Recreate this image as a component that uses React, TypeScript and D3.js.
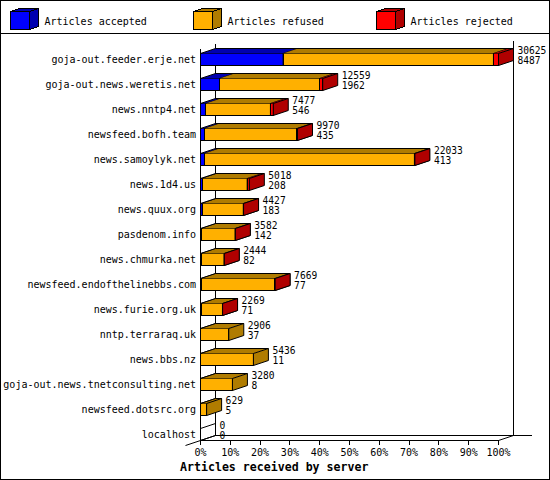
import React from 'react';
import * as d3 from 'd3';

const hosts = [
  'goja-out.feeder.erje.net',
  'goja-out.news.weretis.net',
  'news.nntp4.net',
  'newsfeed.bofh.team',
  'news.samoylyk.net',
  'news.1d4.us',
  'news.quux.org',
  'pasdenom.info',
  'news.chmurka.net',
  'newsfeed.endofthelinebbs.com',
  'news.furie.org.uk',
  'nntp.terraraq.uk',
  'news.bbs.nz',
  'goja-out.news.tnetconsulting.net',
  'newsfeed.dotsrc.org',
  'localhost',
];
const accepted = [8487, 1962, 546, 435, 413, 208, 183, 142, 82, 77, 71, 37, 11, 8, 5, 0];
const refused = [21618, 10277, 6641, 9475, 21570, 4590, 4214, 3415, 2342, 7577, 2188, 2869, 5425, 3272, 624, 0];
const rejected = [520, 320, 290, 60, 50, 220, 30, 25, 20, 15, 10, 0, 0, 0, 0, 0];
const seriesNames = ['Articles accepted', 'Articles refused', 'Articles rejected'];
const percentTicks = [0, 10, 20, 30, 40, 50, 60, 70, 80, 90, 100];
const axisTitle = 'Articles received by server';

const frontColors = ['#0000ff', '#ffb000', '#ff0000'];
const darkColors = ['#0000b0', '#b07c00', '#b00000'];

const W = 550;
const H = 480;
const DX = 15;
const DY = 5;
const BAR_H = 12;
const FONT = '"DejaVu Sans Mono", "Liberation Mono", monospace';

export default function App() {
  const series = [accepted, refused, rejected];
  const totals = hosts.map((_, i) => accepted[i] + refused[i] + rejected[i]);
  const maxTotal = d3.max(totals) as number;
  const pct = (v: number) => (v / maxTotal) * 100;
  const x = d3.scaleLinear().domain([0, 100]).range([200.5, 498.5]);
  const y = d3.scaleBand<string>().domain(hosts).range([53.5, 453.5]).padding(0);

  const x0 = x(0);
  const x100 = x(100);
  const firstTop = y(hosts[0]) as number;
  const axisY = (y(hosts[hosts.length - 1]) as number) + BAR_H;
  const frontTop = firstTop - DY;
  const backTop = frontTop - DY;
  const backBottom = axisY - DY;

  const bars = hosts.map((h, i) => {
    const t = y(h) as number;
    const b = t + BAR_H;
    let cum = 0;
    const segs: { a: number; z: number; k: number }[] = [];
    series.forEach((vals, k) => {
      const v = vals[i];
      const a = x(pct(cum));
      cum += v;
      const z = x(pct(cum));
      if (v > 0) segs.push({ a, z, k });
    });
    const end = x(pct(totals[i]));
    return { h, i, t, b, segs, end };
  });

  return (
    <svg
      width={W}
      height={H}
      viewBox={`0 0 ${W} ${H}`}
      style={{ position: 'fixed', left: 0, top: 0, background: '#fff' }}
      fontFamily={FONT}
    >
      <rect x={0} y={0} width={W} height={H} fill="#fff" />
      {/* legend */}
      {seriesNames.map((name, k) => {
        const lx = 10.5 + 183 * k;
        const lt = 11.5;
        const lb = 29.5;
        const lw = 19;
        const ldx = 9;
        const ldy = 3;
        return (
          <g key={name} shapeRendering="crispEdges">
            <path
              d={`M${lx},${lt}L${lx + ldx},${lt - ldy}H${lx + lw + ldx}L${lx + lw},${lt}Z`}
              fill={darkColors[k]}
              stroke="#000"
            />
            <path
              d={`M${lx + lw},${lt}L${lx + lw + ldx},${lt - ldy}V${lb - ldy}L${lx + lw},${lb}Z`}
              fill={darkColors[k]}
              stroke="#000"
            />
            <rect x={lx} y={lt} width={lw} height={lb - lt} fill={frontColors[k]} stroke="#000" />
            <text x={lx + 34} y={25} fontSize={10} fill="#000" shapeRendering="auto">
              {name}
            </text>
          </g>
        );
      })}
      <line x1={0} x2={W} y1={33.5} y2={33.5} stroke="#000" shapeRendering="crispEdges" />

      {/* axes frame */}
      <g stroke="#000" fill="none">
        <line x1={x0 + DX} x2={x0 + DX} y1={backTop} y2={backBottom} shapeRendering="crispEdges" />
        <line x1={x100 + DX} x2={x100 + DX} y1={40.5} y2={backBottom} shapeRendering="crispEdges" />
        <line x1={x0 + DX} x2={532} y1={backBottom} y2={backBottom} shapeRendering="crispEdges" />
        <line x1={x0} x2={x0} y1={frontTop} y2={axisY} shapeRendering="crispEdges" />
        <line x1={x0} x2={x100} y1={axisY} y2={axisY} shapeRendering="crispEdges" />
        <line x1={x100} x2={x100 + DX} y1={axisY} y2={backBottom} />
        <line x1={x0 - 15} x2={x0 + DX} y1={axisY + 5} y2={backBottom} />
        {percentTicks.map((p) => (
          <line key={p} x1={x(p)} x2={x(p)} y1={axisY} y2={axisY + 4} shapeRendering="crispEdges" />
        ))}
      </g>
      {percentTicks.map((p) => (
        <text key={p} x={x(p)} y={456} fontSize={10} textAnchor="middle" fill="#000">
          {p}%
        </text>
      ))}

      {/* bars */}
      {bars.map(({ h, i, t, b, segs, end }) => (
        <g key={h}>
          {segs.length === 0 ? (
            <path
              d={`M${x0},${t}L${x0 + DX},${t - DY}V${b - DY}L${x0},${b}Z`}
              fill="none"
              stroke="#000"
            />
          ) : (
            <g>
              {segs.map(({ a, z, k }) => (
                <g key={k}>
                  <path
                    d={`M${a},${t}H${z}V${b}H${a}Z`}
                    fill={frontColors[k]}
                    stroke="#000"
                    shapeRendering="crispEdges"
                  />
                  <path
                    d={`M${a},${t}L${a + DX},${t - DY}H${z + DX}L${z},${t}Z`}
                    fill={darkColors[k]}
                    stroke="none"
                  />
                  <path
                    d={`M${z},${t}L${z + DX},${t - DY}V${b - DY}L${z},${b}Z`}
                    fill={darkColors[k]}
                    stroke="#000"
                  />
                </g>
              ))}
              <path
                d={`M${segs[0].a},${t}L${segs[0].a + DX},${t - DY}H${end + DX}`}
                fill="none"
                stroke="#000"
              />
            </g>
          )}
          <text x={end + DX + 4} y={t + 0.5} fontSize={9.6} fill="#000">
            {totals[i]}
          </text>
          <text x={end + DX + 4} y={t + 10.5} fontSize={9.6} fill="#000">
            {accepted[i]}
          </text>
          <text x={196} y={t + 9} fontSize={10} textAnchor="end" fill="#000">
            {h}
          </text>
        </g>
      ))}

      <text x={180} y={470.5} fontSize={11.6} fontWeight="bold" fill="#000">
        {axisTitle}
      </text>
      <rect x={0.5} y={0.5} width={W - 1} height={H - 1} fill="none" stroke="#000" shapeRendering="crispEdges" />
    </svg>
  );
}
